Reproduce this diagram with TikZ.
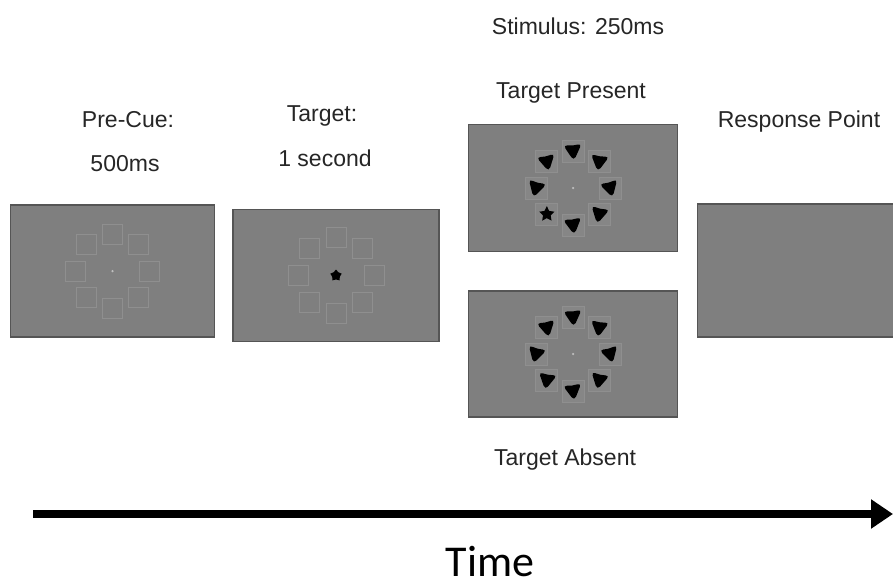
\documentclass[tikz,border=0pt]{standalone}
\usepackage{fontspec}
\setmainfont{Liberation Sans}
\newfontfamily\timefont{Carlito}
\usetikzlibrary{arrows.meta,shapes.geometric,calc}
\definecolor{panelgray}{HTML}{7F7F7F}
\definecolor{panelborder}{HTML}{555555}
\definecolor{sqline}{HTML}{8F8F8F}
\definecolor{sqfill}{HTML}{868686}
\tikzset{
  x=1pt, y=-1pt,
  panel/.style={draw=panelborder, fill=panelgray, line width=1.3pt, inner sep=0pt},
  sq/.style={draw=sqline, line width=0.9pt, minimum size=20pt, inner sep=0pt},
  sqf/.style={sq, minimum size=22pt, fill=sqfill},
  fix/.style={circle, fill=black!25, minimum size=2.5pt, inner sep=0pt},
  lbl/.style={anchor=base, font=\fontsize{23}{26}\selectfont, text=black!85},
  tstar/.style={star, star points=5, star point ratio=2.0, fill=black, minimum size=16pt, inner sep=0pt},
  pstar/.style={star, star points=5, star point ratio=1.5, fill=black, minimum size=12pt, inner sep=0pt},
}
\newcommand{\blobat}[2]{%
  \begin{scope}[shift={(#1)}, rotate=#2]
    \fill[black, rounded corners=4.5pt] (-9.5,-7) -- (0,-5) -- (9.5,-7) -- (0,10) -- cycle;
  \end{scope}}
\begin{document}
\begin{tikzpicture}
\useasboundingbox[fill=white] (0,0) rectangle (893,586);

% panels
\node[panel, minimum width=204pt, minimum height=132pt] (p1) at (112.5,271) {};
\node[panel, minimum width=206pt, minimum height=132pt] (p2) at (336,275.5) {};
\node[panel, minimum width=209pt, minimum height=127pt] (p3) at (573,188) {};
\node[panel, minimum width=209pt, minimum height=126pt] (p4) at (573,354) {};
\node[panel, minimum width=210pt, minimum height=133pt, anchor=west] (p5) at (697,270.5) {};

% panel 1: pre-cue
\foreach \a in {0,45,...,315} \node[sq] at ($(p1)+(\a:37)$) {};
\node[fix] (f1) at (p1) {};

% panel 2: target
\foreach \a in {0,45,...,315} \node[sq] at ($(p2)+(\a:38)$) {};
\node[pstar] (t2) at (p2) {};

% panel 3: target present (star at lower left)
\foreach \a/\r in {90/8,45/-12,0/15,315/-8,270/5,180/-15,225/12} {
  \node[sqf] at ($(p3)+(\a:37)$) {};
  \blobat{$(p3)+(\a:37)$}{\r}
}
\node[sqf] at ($(p3)+(135:37)$) {};
\node[tstar] (t3) at ($(p3)+(135:37)$) {};
\node[fix] (f3) at (p3) {};

% panel 4: target absent
\foreach \a/\r in {90/8,45/-12,0/15,315/-8,270/5,225/12,180/-15,135/-10} {
  \node[sqf] at ($(p4)+(\a:37)$) {};
  \blobat{$(p4)+(\a:37)$}{\r}
}
\node[fix] (f4) at (p4) {};

% labels
\node[lbl] (stim) at (578,35) {Stimulus: 250ms};
\node[lbl] (tpres) at (571,98) {Target Present};
\node[lbl] (pre1) at (128,127) {Pre-Cue:};
\node[lbl] (pre2) at (125,171) {500ms};
\node[lbl] (tg1) at (322,121) {Target:};
\node[lbl] (tg2) at (325,166) {1 second};
\node[lbl] (resp) at (799,127) {Response Point};
\node[lbl] (tabs) at (565,465) {Target Absent};

% time arrow
\coordinate (ta) at (33,514);
\coordinate (tb) at (893,514);
\draw[line width=8pt, -{Triangle[length=22pt,width=28pt]}] (ta) -- (tb);
\node[anchor=base, inner sep=0pt, font=\timefont\fontsize{44}{48}\selectfont] (time) at (490,576) {Time};
\end{tikzpicture}
\end{document}
